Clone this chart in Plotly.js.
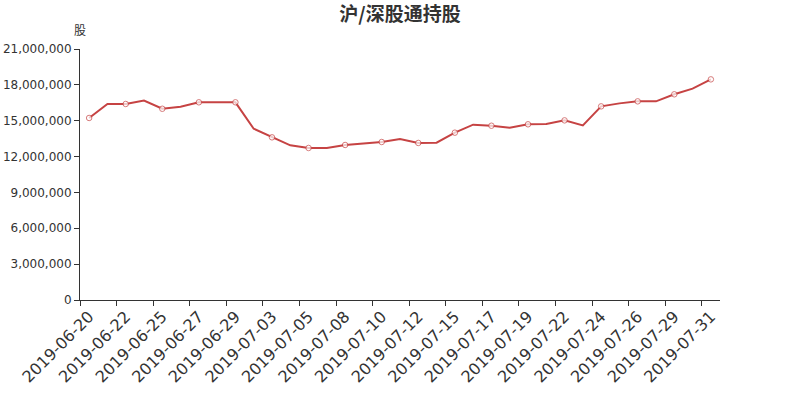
<!DOCTYPE html>
<html>
<head>
<meta charset="utf-8">
<script src="https://cdn.plot.ly/plotly-3.0.1.min.js"></script>
<style>html,body{margin:0;padding:0;background:#fff;}#chart{width:800px;height:400px;}</style>
</head>
<body>
<div id="chart"></div>
<script>
const chartTitle = "沪/深股通持股";
const yAxisName = "股";
const dates = [
  "2019-06-20","2019-06-21","2019-06-22","2019-06-24","2019-06-25","2019-06-26","2019-06-27","2019-06-28",
  "2019-06-29","2019-07-01","2019-07-03","2019-07-04","2019-07-05","2019-07-06","2019-07-08","2019-07-09",
  "2019-07-10","2019-07-11","2019-07-12","2019-07-13","2019-07-15","2019-07-16","2019-07-17","2019-07-18",
  "2019-07-19","2019-07-20","2019-07-22","2019-07-23","2019-07-24","2019-07-25","2019-07-26","2019-07-27",
  "2019-07-29","2019-07-30","2019-07-31"
];
const holdings = [
  15230000,16400000,16400000,16690000,16000000,16170000,16540000,16540000,
  16540000,14330000,13610000,12940000,12720000,12720000,12970000,13110000,
  13220000,13470000,13140000,13160000,14000000,14670000,14580000,14420000,
  14700000,14730000,15030000,14610000,16200000,16450000,16620000,16620000,
  17210000,17680000,18460000
];

const lineColor = "#c64343";
const markerSizes = holdings.map((v, i) => (i % 2 === 0 ? 5.5 : 0));

const trace = {
  type: "scatter",
  mode: "lines+markers",
  x: dates,
  y: holdings,
  line: {color: lineColor, width: 2},
  marker: {size: markerSizes, color: "#ffffff", line: {color: lineColor, width: 1}},
  hoverinfo: "x+y"
};

const layout = {
  width: 800,
  height: 400,
  margin: {l: 80, r: 80, t: 49, b: 100, pad: 0},
  paper_bgcolor: "#ffffff",
  plot_bgcolor: "#ffffff",
  showlegend: false,
  font: {family: "DejaVu Sans, sans-serif", color: "#333333"},
  title: {
    text: "<b>" + chartTitle + "</b>",
    x: 0.5, xanchor: "center",
    y: 1 - 14/400, yanchor: "middle", yref: "container",
    font: {size: 19, color: "#333333", family: "Noto Sans CJK SC, sans-serif"}
  },
  xaxis: {
    type: "category",
    tickmode: "linear", tick0: 0, dtick: 2,
    tickson: "boundaries",
    ticks: "outside", ticklen: 5, tickcolor: "#333333", tickwidth: 1,
    showline: true, linecolor: "#333333", linewidth: 1,
    showgrid: false, zeroline: false,
    tickangle: -45,
    tickfont: {size: 16, color: "#333333", family: "DejaVu Sans, sans-serif"},
    range: [-0.5, dates.length - 0.5],
    fixedrange: true
  },
  yaxis: {
    range: [0, 21000000],
    tickmode: "linear", tick0: 0, dtick: 3000000,
    tickformat: ",d",
    ticks: "outside", ticklen: 5, tickcolor: "#333333", tickwidth: 1,
    showline: true, linecolor: "#333333", linewidth: 1,
    showgrid: false, zeroline: false,
    tickfont: {size: 12, color: "#333333", family: "DejaVu Sans, sans-serif"},
    fixedrange: true
  },
  annotations: [{
    text: yAxisName,
    xref: "paper", yref: "paper",
    x: 0, y: 1, yshift: 20, xanchor: "center", yanchor: "middle",
    showarrow: false,
    font: {size: 12, color: "#333333", family: "Noto Sans CJK SC, sans-serif"}
  }]
};

Plotly.newPlot("chart", [trace], layout, {displayModeBar: false, staticPlot: true});
</script>
</body>
</html>
